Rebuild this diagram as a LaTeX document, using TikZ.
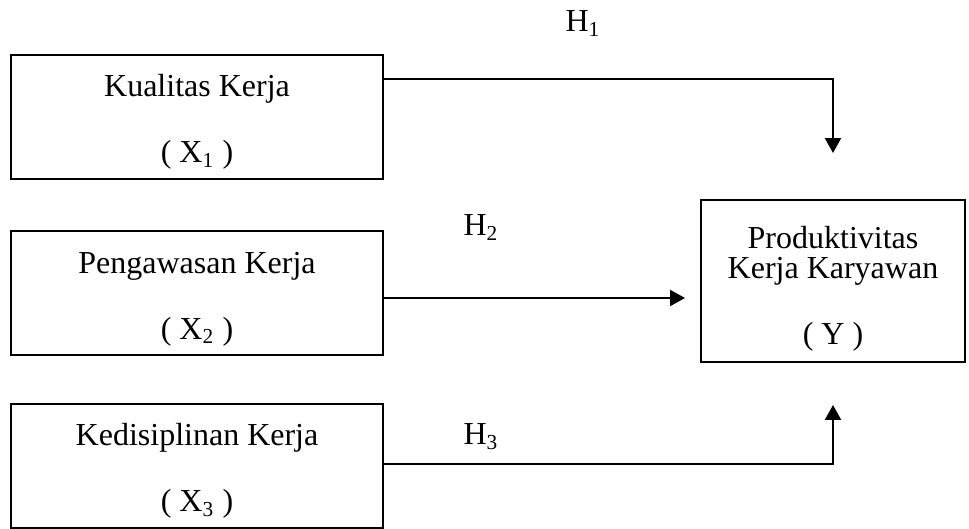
\documentclass[tikz,border=0pt]{standalone}
\usepackage{fontspec}
\setmainfont{Liberation Serif}
\usetikzlibrary{arrows.meta}
\tikzstyle{var}=[draw,line width=0.75pt,minimum width=139.5pt,minimum height=46.5pt,inner sep=0pt,align=center,font=\fontsize{12}{11.25}\selectfont]
\tikzstyle{hyp}=[inner sep=0pt,anchor=base west,font=\fontsize{12}{14}\selectfont]
\tikzstyle{to}=[-{Triangle[width=6pt,length=5.6pt]},line width=0.75pt]

\begin{document}
\begin{tikzpicture}[x=0.375pt,y=-0.375pt]
        \useasboundingbox (0,0) rectangle (969,529);
        \node[var] (X1) at (197,117) {\rule{0pt}{12pt}Kualitas Kerja\\[13.5pt]( X\textsubscript{1} )}
        ;
        \node[var] (X2) at (197,293.5) {\rule{0pt}{12pt}Pengawasan Kerja\\[13.5pt]( X\textsubscript{2} )}
        ;
        \node[var] (X3) at (197,466) {\rule{0pt}{12pt}Kedisiplinan Kerja\\[13.5pt]( X\textsubscript{3} )}
        ;
        \node[var,minimum width=99pt,minimum height=60.75pt] (Y) at (833,281) {\rule{0pt}{14pt}Produktivitas\\Kerja Karyawan\\[13.5pt]( Y )}
        ;
        \coordinate (t1) at (833,153);
        \coordinate (t2) at (685,298);
        \coordinate (t3) at (833,405);
        \draw[to] ([yshift=14.25pt]X1.east) -| (t1);
        \draw[to] (X2.east |- t2) -- (t2);
        \draw[to] ([yshift=0.75pt]X3.east) -| (t3);
        \node[hyp] (H1) at (565,32) {H\textsubscript{1}};
        \node[hyp] (H2) at (463,236) {H\textsubscript{2}};
        \node[hyp] (H3) at (463,445) {H\textsubscript{3}};
    \end{tikzpicture}
\end{document}
